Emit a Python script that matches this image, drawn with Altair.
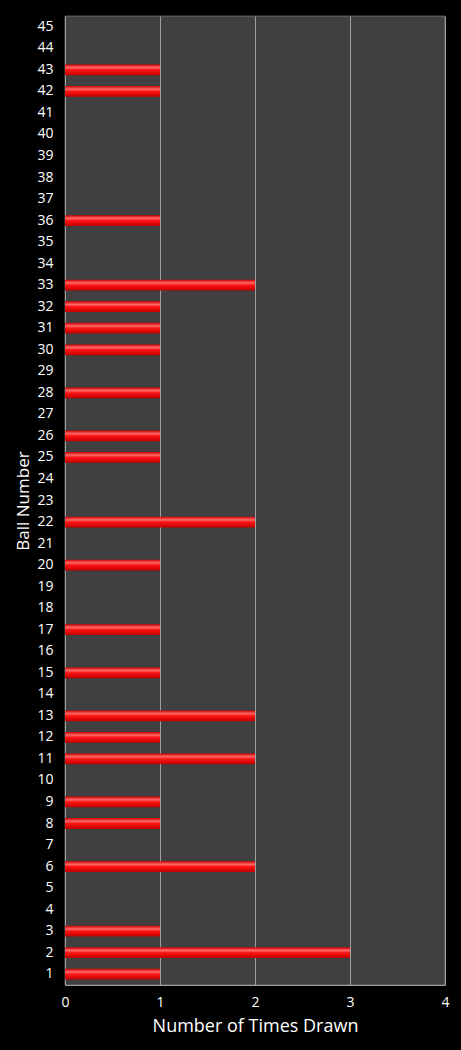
import altair as alt
import pandas as pd

balls = list(range(1, 46))
drawn = {1: 1, 2: 3, 3: 1, 6: 2, 8: 1, 9: 1, 11: 2, 12: 1, 13: 2, 15: 1, 17: 1,
         20: 1, 22: 2, 25: 1, 26: 1, 28: 1, 30: 1, 31: 1, 32: 1, 33: 2, 36: 1,
         42: 1, 43: 1}
counts = [drawn.get(b, 0) for b in balls]
x_ticks = [0, 1, 2, 3, 4]

df = pd.DataFrame({"ball": [str(b) for b in balls], "count": counts})
order = [str(b) for b in reversed(balls)]

grad = alt.Gradient(
    gradient="linear", x1=0, y1=0, x2=0, y2=1,
    stops=[
        alt.GradientStop(offset=0, color="#d00000"),
        alt.GradientStop(offset=0.3, color="#ff6a6a"),
        alt.GradientStop(offset=0.5, color="#ff1414"),
        alt.GradientStop(offset=1, color="#c00000"),
    ],
)

chart = alt.Chart(df).mark_bar(color=grad).encode(
    y=alt.Y("ball:O", sort=order,
            scale=alt.Scale(paddingInner=0.5, paddingOuter=0.25),
            axis=alt.Axis(title="Ball Number", labelAngle=0, ticks=False, domain=False,
                          labelPadding=12, titlePadding=4, labelFontSize=14,
                          titleFontSize=17, labelColor="#ffffff", titleColor="#ffffff",
                          labelFont="Open Sans", titleFont="Open Sans",
                          titleFontWeight="normal")),
    x=alt.X("count:Q", scale=alt.Scale(domain=[0, 4], nice=False),
            axis=alt.Axis(title="Number of Times Drawn", values=x_ticks, format="d",
                          ticks=False, domainColor="#a0a0a0", gridColor="#a0a0a0",
                          gridWidth=1, labelPadding=10, titlePadding=8, labelFlush=False,
                          labelFontSize=14, titleFontSize=18,
                          labelColor="#ffffff", titleColor="#ffffff",
                          labelFont="Open Sans", titleFont="Open Sans",
                          titleFontWeight="normal")),
).properties(
    width=380, height=969, background="#000000",
    autosize=alt.AutoSizeParams(type="none"),
    padding={"left": 57, "top": 8, "right": 8, "bottom": 60},
).configure_view(fill="#404040", stroke="#a0a0a0", strokeWidth=0.5)

chart.save("out.html", embed_options={"renderer": "svg", "actions": False})

with open("out.html", encoding="utf-8") as f:
    html = f.read()
html = html.replace("<head>", "<head><style>html,body{background:#000;}</style>", 1)
with open("out.html", "w", encoding="utf-8") as f:
    f.write(html)
